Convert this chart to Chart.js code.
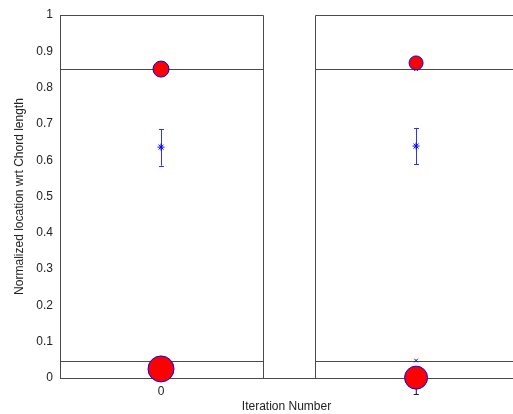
<!DOCTYPE html>
<html>
<head>
<meta charset="utf-8">
<script src="https://cdn.jsdelivr.net/npm/chart.js@4.4.1/dist/chart.umd.min.js"></script>
<style>
html,body{margin:0;padding:0;background:#fff}
</style>
</head>
<body>
<canvas id="c" width="513" height="414"></canvas>
<script>
// values
const iterations = [0, 1]
const meanLoc = [0.636, 0.639]
const errLow = [0.585, 0.589]
const errHigh = [0.686, 0.689]
const upperLoc = [0.851, 0.868]
const lowerLoc = [0.025, 0.001]
const crossIter = [1, 1]
const crossLoc = [0.851, 0.048]
const boundUpper = 0.85
const boundLower = 0.047
const yTickLabels = ["0", "0.1", "0.2", "0.3", "0.4", "0.5", "0.6", "0.7", "0.8", "0.9", "1"]
const xTickLabels = ["0", "1"]

Chart.defaults.font.family = "'Liberation Sans', Arial, sans-serif"
Chart.defaults.font.size = 12
Chart.defaults.color = "#222"

const pts = (xs, ys) => xs.map((x, i) => ({x: x, y: ys[i]}))

//boxes for each iteration plus the two bound lines
const boxPlugin = {
    id: "boxes",
    beforeDatasetsDraw(chart) {
        let ctx = chart.ctx
        let xs = chart.scales.x
        let ys = chart.scales.y
        ctx.save()
        ctx.strokeStyle = "#4a4a4a"
        ctx.lineWidth = 1
        iterations.forEach(it => {
            let l = Math.round(xs.getPixelForValue(it - 0.396)) + 0.5
            let r = Math.round(xs.getPixelForValue(it + 0.4)) + 0.5
            let t = Math.round(ys.getPixelForValue(1)) + 0.5
            let b = Math.round(ys.getPixelForValue(0)) + 0.5
            ctx.beginPath()
            ctx.moveTo(l, b)
            ctx.lineTo(l, t)
            ctx.lineTo(r, t)
            ctx.lineTo(r, b)
            ;[boundUpper, boundLower].forEach(v => {
                let y = Math.round(ys.getPixelForValue(v)) + 0.5
                ctx.moveTo(l, y)
                ctx.lineTo(r, y)
            })
            ctx.stroke()
        })
        //error bars
        ctx.strokeStyle = "#3030ff"
        iterations.forEach((it, i) => {
            let x = Math.round(xs.getPixelForValue(it)) + 0.5
            let y1 = ys.getPixelForValue(errLow[i])
            let y2 = ys.getPixelForValue(errHigh[i])
            ctx.beginPath()
            ctx.moveTo(x, y1)
            ctx.lineTo(x, y2)
            ctx.moveTo(x - 2.5, Math.round(y1) + 0.5)
            ctx.lineTo(x + 2.5, Math.round(y1) + 0.5)
            ctx.moveTo(x - 2.5, Math.round(y2) + 0.5)
            ctx.lineTo(x + 2.5, Math.round(y2) + 0.5)
            ctx.stroke()
        })
        ctx.restore()
    }
}

let ctx = document.getElementById("c")
let chart = new Chart(ctx, {
    type: "scatter",
    data: {
        datasets: [
            {
                data: pts(iterations, lowerLoc),
                pointRadius: [13, 11.5],
                backgroundColor: "#ff0000",
                borderColor: "#0000ff",
                borderWidth: 1,
                clip: false
            },
            {
                data: pts(iterations, upperLoc),
                pointRadius: [8, 7],
                backgroundColor: "#ff0000",
                borderColor: "#0000ff",
                borderWidth: 1,
                clip: false
            },
            {
                data: pts(iterations, meanLoc),
                pointStyle: "star",
                pointRadius: 3.5,
                borderColor: "#0000ff",
                borderWidth: 1,
                clip: false
            },
            {
                data: pts(crossIter, crossLoc),
                pointStyle: "crossRot",
                pointRadius: 2.5,
                borderColor: "#0000ff",
                borderWidth: 1,
                clip: false
            }
        ]
    },
    options: {
        responsive: false,
        animation: false,
        events: [],
        layout: {autoPadding: false, padding: {top: 15, right: 0, bottom: 0, left: 0}},
        plugins: {
            legend: {display: false},
            tooltip: {enabled: false}
        },
        scales: {
            x: {
                type: "linear",
                min: -0.396,
                max: 1.38,
                afterBuildTicks: scale => { scale.ticks = iterations.map(v => ({value: v})) },
                afterFit: scale => {
                    scale.height = 36
                    scale.paddingLeft = 0
                    scale.paddingRight = 0
                },
                grid: {display: false, drawTicks: false},
                border: {display: true, color: "#4a4a4a", width: 1},
                ticks: {padding: 6, callback: (v, i) => xTickLabels[i]},
                title: {display: true, text: "Iteration Number", padding: {top: 2, bottom: 0}}
            },
            y: {
                min: 0,
                max: 1,
                afterBuildTicks: scale => { scale.ticks = yTickLabels.map((l, i) => ({value: i / 10})) },
                afterFit: scale => {
                    scale.width = 60
                    scale.paddingTop = 0
                    scale.paddingBottom = 0
                },
                grid: {display: false, drawTicks: false},
                border: {display: true, color: "#4a4a4a", width: 1},
                ticks: {padding: 7, callback: (v, i) => yTickLabels[i]},
                title: {display: true, text: "Normalized location wrt Chord length", padding: {top: 12, bottom: 0}}
            }
        }
    },
    plugins: [boxPlugin]
})
</script>
</body>
</html>
